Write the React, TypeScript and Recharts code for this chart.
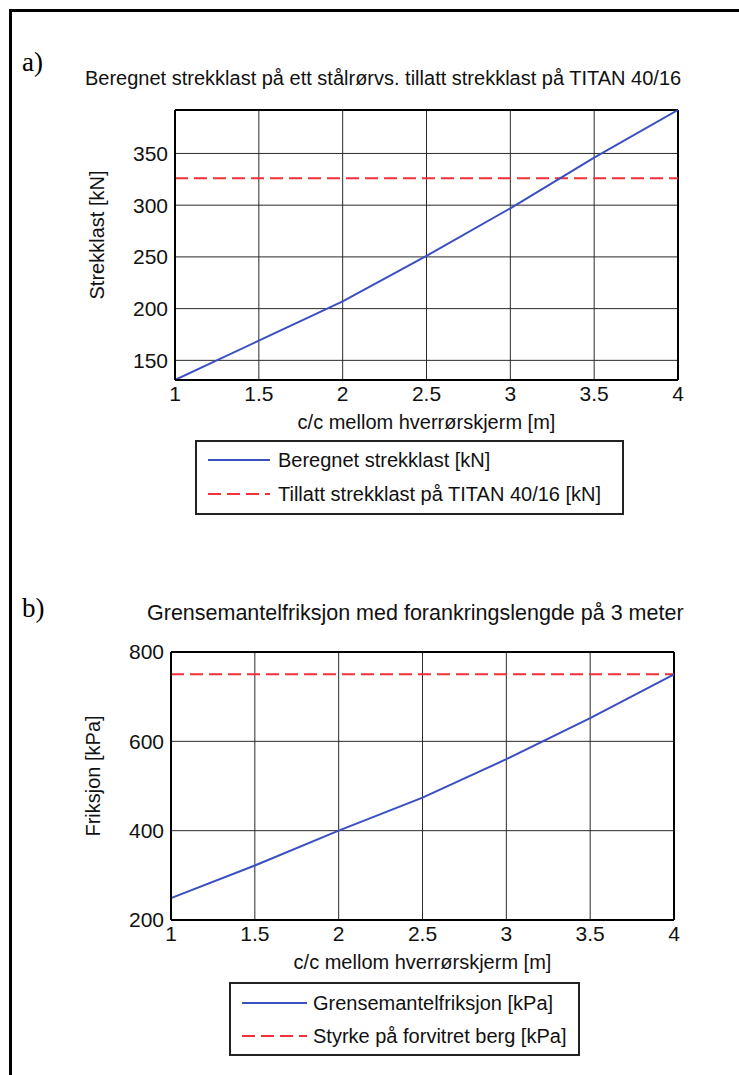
import React from 'react';
import { LineChart, Line, XAxis, YAxis, CartesianGrid, ReferenceLine } from 'recharts';

const xValues = [1, 1.5, 2, 2.5, 3, 3.5, 4];
const xTicks = [1, 1.5, 2, 2.5, 3, 3.5, 4];

// Panel a
const beregnetStrekklast = [131, 169, 207, 251, 297, 346, 392];
const tillattStrekklast = [326, 326, 326, 326, 326, 326, 326];
const yTicksA = [150, 200, 250, 300, 350];
const yDomainA = [131, 392];

// Panel b
const grensemantelfriksjon = [249, 322, 400, 474, 560, 652, 750];
const styrkeBerg = [750, 750, 750, 750, 750, 750, 750];
const yTicksB = [200, 400, 600, 800];
const yDomainB = [200, 800];

const titleA = 'Beregnet strekklast på ett stålrørvs. tillatt strekklast på TITAN 40/16';
const titleB = 'Grensemantelfriksjon med forankringslengde på 3 meter';
const xLabel = 'c/c mellom hverrørskjerm [m]';
const yLabelA = 'Strekklast [kN]';
const yLabelB = 'Friksjon [kPa]';
const legendA = ['Beregnet strekklast [kN]', 'Tillatt strekklast på TITAN 40/16 [kN]'];
const legendB = ['Grensemantelfriksjon [kPa]', 'Styrke på forvitret berg [kPa]'];

const dataA = xValues.map((x, i) => ({ x, calc: beregnetStrekklast[i], allowed: tillattStrekklast[i] }));
const dataB = xValues.map((x, i) => ({ x, calc: grensemantelfriksjon[i], allowed: styrkeBerg[i] }));

const FONT = '"Liberation Sans", Arial, sans-serif';
const FS = 20;
const BLUE = '#3a4fc2';
const RED = '#f2303a';
const GRID = '#2a2a2a';
const TICK_STYLE = { fontFamily: FONT, fontSize: 21, fill: '#111' };

type PanelProps = {
  data: any[];
  yTicks: number[];
  yDomain: number[];
  yLabel: string;
  margin: { top: number; right: number; bottom: number; left: number };
};

function YLabel(props: any) {
  const vb = props.viewBox || {};
  const cx = vb.x + 2;
  const cy = vb.y + vb.height / 2 - 10;
  return (
    <text x={cx} y={cy} transform={`rotate(-90 ${cx} ${cy})`} textAnchor="middle" dominantBaseline="central" style={{ fontFamily: FONT, fontSize: FS, fill: '#111' }}>
      {props.value}
    </text>
  );
}

function Panel({ data, yTicks, yDomain, yLabel, margin }: PanelProps) {
  return (
    <LineChart width={739} height={540} data={data} margin={margin}>
      <CartesianGrid xAxisId="b" yAxisId="l" stroke={GRID} strokeWidth={1} horizontalValues={yTicks} verticalValues={xTicks} />
      <XAxis
        xAxisId="b"
        dataKey="x"
        type="number"
        domain={[1, 4]}
        ticks={xTicks}
        tickLine={false}
        axisLine={{ stroke: '#000', strokeWidth: 2 }}
        tick={TICK_STYLE}
        tickMargin={0}
        height={30}
        interval={0}
        label={{ value: xLabel, position: 'bottom', offset: 5, style: { fontFamily: FONT, fontSize: FS, fill: '#111' } }}
      />
      <YAxis
        yAxisId="l"
        type="number"
        domain={yDomain}
        ticks={yTicks}
        allowDataOverflow
        tickLine={false}
        axisLine={{ stroke: '#000', strokeWidth: 2 }}
        tick={TICK_STYLE}
        tickMargin={1}
        width={80}
        interval={0}
        label={{ value: yLabel, position: 'insideLeft', content: YLabel }}
      />
      <ReferenceLine xAxisId="b" yAxisId="l" y={yDomain[1]} stroke="#000" strokeWidth={2} />
      <ReferenceLine xAxisId="b" yAxisId="l" x={4} stroke="#000" strokeWidth={2} />
      <Line xAxisId="b" yAxisId="l" dataKey="allowed" stroke={RED} strokeWidth={2} strokeDasharray="13 6" dot={false} isAnimationActive={false} />
      <Line xAxisId="b" yAxisId="l" dataKey="calc" stroke={BLUE} strokeWidth={2} dot={false} isAnimationActive={false} />
    </LineChart>
  );
}

function LegendBox({ left, top, width, height, labels, lineX, lineW, textX, rowY }: any) {
  return (
    <div style={{ position: 'absolute', left, top, width, height, border: '2px solid #222', boxSizing: 'border-box', background: '#fff' }}>
      {labels.map((lab: string, i: number) => (
        <div key={lab} style={{ position: 'absolute', left: 0, top: rowY[i] - top - 14, height: 26, width: '100%' }}>
          <svg width={lineW + 2} height={26} style={{ position: 'absolute', left: lineX - left - 2, top: 0 }}>
            <line x1={0} x2={lineW} y1={13} y2={13} stroke={i === 0 ? BLUE : RED} strokeWidth={2} strokeDasharray={i === 0 ? undefined : '13 6'} />
          </svg>
          <span style={{ position: 'absolute', left: textX - left - 2, top: 0, lineHeight: '26px', fontFamily: FONT, fontSize: FS, color: '#111', whiteSpace: 'nowrap' }}>{lab}</span>
        </div>
      ))}
    </div>
  );
}

const tagStyle: React.CSSProperties = { position: 'absolute', fontFamily: '"Liberation Serif", "Times New Roman", serif', fontSize: 27, lineHeight: '30px', color: '#000' };
const titleStyle: React.CSSProperties = { position: 'absolute', fontFamily: FONT, fontSize: FS, lineHeight: '24px', color: '#111', whiteSpace: 'nowrap' };

export default function App() {
  return (
    <div style={{ position: 'absolute', left: 0, top: 0, width: 739, height: 1075, background: '#fff', overflow: 'hidden' }}>
      <div style={{ position: 'absolute', left: 9, top: 9, width: 760, height: 1100, borderTop: '3px solid #000', borderLeft: '3px solid #000' }} />
      <div style={{ position: 'absolute', left: 0, top: 0 }}>
        <Panel data={dataA} yTicks={yTicksA} yDomain={yDomainA} yLabel={yLabelA} margin={{ top: 110, right: 61, bottom: 130, left: 95 }} />
      </div>
      <div style={{ position: 'absolute', left: 0, top: 540 }}>
        <Panel data={dataB} yTicks={yTicksB} yDomain={yDomainB} yLabel={yLabelB} margin={{ top: 112, right: 65, bottom: 130, left: 91 }} />
      </div>
      <div style={{ ...tagStyle, left: 22, top: 47 }}>a)</div>
      <div style={{ ...tagStyle, left: 22, top: 593 }}>b)</div>
      <div style={{ ...titleStyle, left: 85, top: 66 }}>{titleA}</div>
      <div style={{ ...titleStyle, left: 147, top: 601, fontSize: 21.5 }}>{titleB}</div>
      <LegendBox left={195} top={440} width={429} height={75} labels={legendA} lineX={208} lineW={62} textX={278} rowY={[459, 493]} />
      <LegendBox left={229} top={982} width={351} height={74} labels={legendB} lineX={242} lineW={65} textX={313} rowY={[1002, 1035]} />
    </div>
  );
}
